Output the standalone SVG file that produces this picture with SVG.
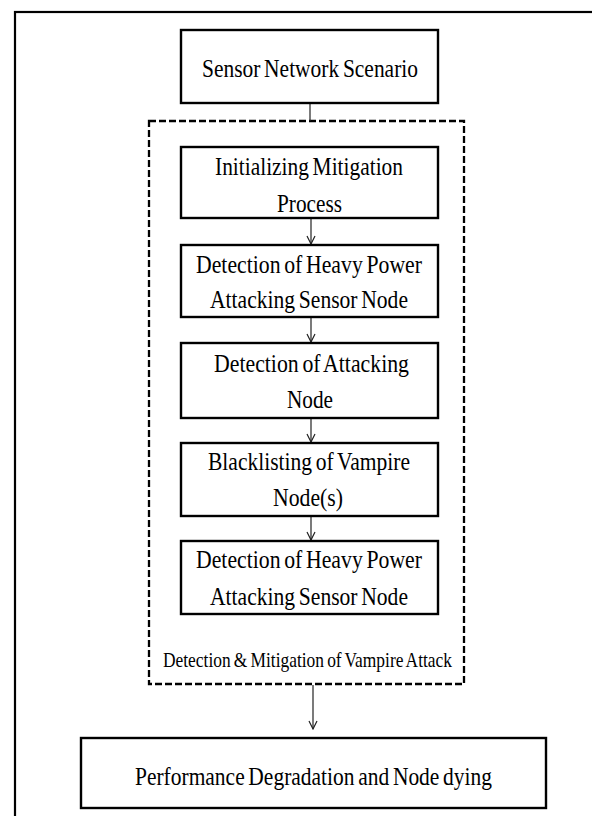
<svg xmlns="http://www.w3.org/2000/svg" width="592" height="816" viewBox="0 0 592 816">
<defs>
<style>
.box{fill:#fff;stroke:#000;stroke-width:2.4}
.frame{fill:#fff;stroke:#000;stroke-width:2.2}
.dash{fill:none;stroke:#000;stroke-width:2.3;stroke-dasharray:7 3}
.t{font-family:"Liberation Serif","Times New Roman",serif;font-size:25px;fill:#000;text-anchor:middle;word-spacing:-2px}
.lbl{font-family:"Liberation Serif","Times New Roman",serif;font-size:22px;fill:#000;text-anchor:middle;word-spacing:-1.5px}
.conn{stroke:#222;stroke-width:1.2;fill:none}
</style>
<marker id="arr" viewBox="0 0 10 10" refX="9" refY="5" markerWidth="10" markerHeight="10" markerUnits="userSpaceOnUse" orient="auto">
<path d="M1,1 L9,5 L1,9" fill="none" stroke="#222" stroke-width="1.2"/>
</marker>
</defs>
<rect class="frame" x="15" y="12" width="600" height="830"/>
<g id="group-detection">
<rect class="dash" x="149" y="121" width="315" height="563"/>
<text class="lbl" x="307.5" y="667" textLength="289" lengthAdjust="spacingAndGlyphs">Detection &amp; Mitigation of Vampire Attack</text>
</g>
<g id="connectors">
<line class="conn" x1="310" y1="103" x2="310" y2="121"/>
<line class="conn" x1="311" y1="219" x2="311" y2="244" marker-end="url(#arr)"/>
<line class="conn" x1="311" y1="318" x2="311" y2="342" marker-end="url(#arr)"/>
<line class="conn" x1="311" y1="419" x2="311" y2="442" marker-end="url(#arr)"/>
<line class="conn" x1="311" y1="517" x2="311" y2="540" marker-end="url(#arr)"/>
<line class="conn" x1="313" y1="685" x2="313" y2="729" marker-end="url(#arr)"/>
</g>
<g id="n-sensor">
<rect class="box" x="181" y="30" width="257" height="73"/>
<text class="t" x="310" y="77" textLength="216" lengthAdjust="spacingAndGlyphs">Sensor Network Scenario</text>
</g>
<g id="n-init">
<rect class="box" x="181" y="147" width="257" height="71"/>
<text class="t" x="309" y="175" textLength="188" lengthAdjust="spacingAndGlyphs">Initializing Mitigation</text>
<text class="t" x="309.5" y="212" textLength="65" lengthAdjust="spacingAndGlyphs">Process</text>
</g>
<g id="n-detect-heavy-1">
<rect class="box" x="181" y="245" width="257" height="72"/>
<text class="t" x="309" y="273" textLength="226" lengthAdjust="spacingAndGlyphs">Detection of Heavy Power</text>
<text class="t" x="309" y="308" textLength="198" lengthAdjust="spacingAndGlyphs">Attacking Sensor Node</text>
</g>
<g id="n-detect-attacking">
<rect class="box" x="181" y="343" width="257" height="75"/>
<text class="t" x="311.5" y="372" textLength="195" lengthAdjust="spacingAndGlyphs">Detection of Attacking</text>
<text class="t" x="310" y="408" textLength="46" lengthAdjust="spacingAndGlyphs">Node</text>
</g>
<g id="n-blacklist">
<rect class="box" x="181" y="443" width="257" height="73"/>
<text class="t" x="309" y="470" textLength="202" lengthAdjust="spacingAndGlyphs">Blacklisting of Vampire</text>
<text class="t" x="308" y="506" textLength="70" lengthAdjust="spacingAndGlyphs">Node(s)</text>
</g>
<g id="n-detect-heavy-2">
<rect class="box" x="181" y="541" width="257" height="73"/>
<text class="t" x="309" y="568" textLength="226" lengthAdjust="spacingAndGlyphs">Detection of Heavy Power</text>
<text class="t" x="309" y="605" textLength="198" lengthAdjust="spacingAndGlyphs">Attacking Sensor Node</text>
</g>
<g id="n-performance">
<rect class="box" x="81" y="738" width="465" height="70"/>
<text class="t" x="313.5" y="785" textLength="357" lengthAdjust="spacingAndGlyphs" style="font-size:26px">Performance Degradation and Node dying</text>
</g>
</svg>
